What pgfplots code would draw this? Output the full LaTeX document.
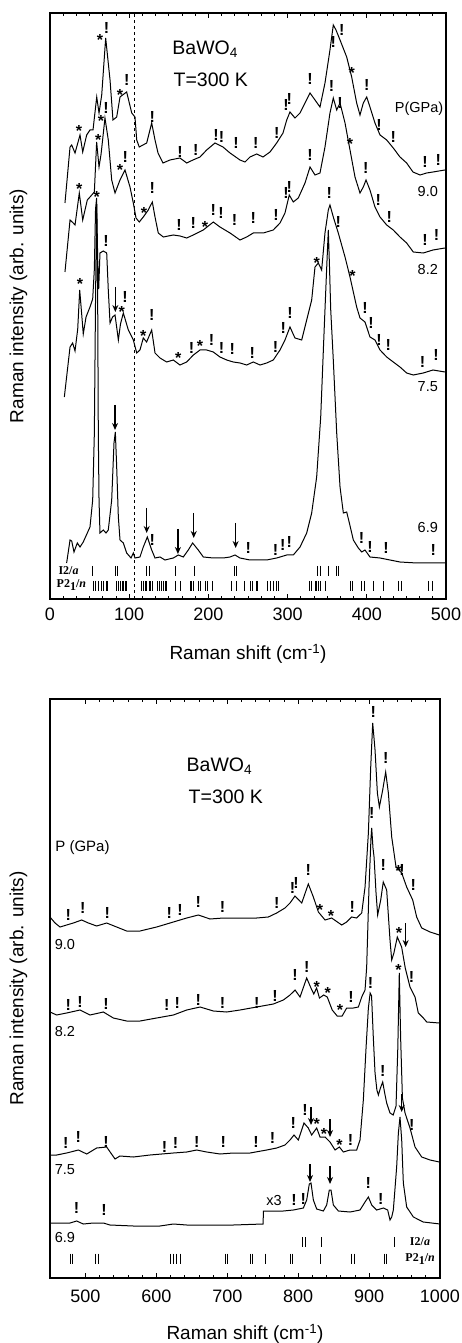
\documentclass[border=0pt]{standalone}
\usepackage{fontspec}
\setmainfont{Liberation Sans}
\newfontfamily\seriffont{Liberation Serif}
\usepackage{pgfplots}
\pgfplotsset{compat=1.18}
\usetikzlibrary{arrows.meta}

\tikzset{lab/.style={font=\fontsize{14.5}{16}\selectfont, inner sep=0pt},
  big/.style={font=\fontsize{19.5}{22}\selectfont, inner sep=0pt},
  phase/.style={inner sep=0pt, font=\seriffont\bfseries\fontsize{12}{12}\selectfont}}
\pgfplotsset{
  common/.style={
    scale only axis,
    axis line style={line width=1.2pt},
    tick align=inside,
    xtick pos=both,
    ytick=\empty,
    ymin=0,
    major tick length=5pt, minor tick length=3pt,
    every tick/.style={line width=0.8pt, black},
    ticklabel style={font=\fontsize{18}{20}\selectfont},
    /pgf/number format/assume math mode=true,
    /pgf/number format/1000 sep={},
    scaled x ticks=false,
    label style={font=\fontsize{19}{21}\selectfont},
  },
  spec/.style={black, line width=1pt, mark=none},
  bang/.style={draw=none, mark=none, forget plot, nodes near coords={!},
    every node near coord/.style={anchor=center, inner sep=0pt, black, font=\bfseries\fontsize{16}{16}\selectfont}},
  star/.style={draw=none, mark=none, forget plot, nodes near coords={*},
    every node near coord/.style={anchor=center, inner sep=0pt, black, yshift=-3pt, font=\bfseries\fontsize{16}{16}\selectfont}},
  rowmarks/.style={only marks, mark=|, mark size=5pt, black, mark options={line width=0.7pt}},
  arr/.style={black, line width=1.4pt, -{Stealth[length=7pt,width=6pt]}},
}

\begin{document}
\begin{tikzpicture}
\useasboundingbox (-50pt,-744pt) rectangle (412pt,599pt);

% ================= TOP PANEL =================
\begin{axis}[common,
  width=396pt, height=586pt,
  xmin=0, xmax=500, ymax=586,
  xtick={0,100,...,500}, minor x tick num=5,
  xticklabel style={yshift=-5.5pt},
  xlabel={Raman shift (cm\textsuperscript{-1})},
  ylabel={Raman intensity (arb. units)},
  xlabel style={at={(axis description cs:0.5,-0.094)}, anchor=center},
  ylabel style={at={(axis description cs:-0.0795,0.5)}, anchor=center},
]
\addplot[black, dashed, line width=0.8pt] coordinates {(106.5,0) (106.5,586)};

% 9.0 GPa
\addplot[spec] coordinates {
(18.9,396)(25.3,452)(27.4,454)(31.6,446)(37.9,464)(41.3,447)(46.3,464)(50.5,469)(54.3,469)
(59.0,502)(61.9,486)(65.3,504)(70.3,561)(75.8,519)(79.5,479)(84.2,482)(88.4,502)(96.8,507)
(103.2,486)(107.3,482)(109.5,459)(112.7,452)(122.1,456)(128.4,476)(132.6,459)(136.4,446)
(142.7,436)(151.5,439)(164.1,441)(172.6,436)(180.5,439)(189.4,442)(197.8,449)(208.3,456)
(218.4,452)(227.3,446)(239.9,439)(246.2,437)(252.5,442)(261.0,445)(268.9,442)(277.8,447)
(286.2,456)(294.2,466)(298.9,479)(303.0,487)(309.3,481)(315.7,486)(322.0,496)(328.3,506)
(334.6,499)(340.9,492)(347.2,516)(353.5,549)(357.7,574)(361.1,569)(366.2,559)(374.6,542)
(380.9,522)(387.2,496)(391.4,484)(395.6,496)(399.9,502)(404.0,492)(410.3,476)(416.7,464)
(425.1,459)(433.4,451)(441.9,442)(450.3,436)(458.3,427)(467.2,424)(475.6,426)(483.6,427)(498.7,429)};

% 8.2 GPa
\addplot[spec] coordinates {
(18.9,327)(25.3,379)(29.4,376)(31.6,374)(37.0,406)(41.3,379)(47.1,399)(50.5,402)(56.0,407)
(58.9,457)(61.9,432)(64.5,445)(69.4,481)(73.6,459)(77.9,419)(82.1,406)(85.0,412)(88.4,419)
(94.7,429)(101.0,412)(105.2,396)(108.6,381)(112.7,377)(117.8,382)(124.1,389)(129.2,397)
(132.6,382)(136.7,366)(143.1,362)(155.7,364)(164.1,363)(172.6,361)(180.9,364)(193.6,369)
(206.2,377)(214.6,372)(227.3,366)(239.9,359)(248.3,362)(256.7,366)(269.3,366)(281.9,369)
(290.4,376)(296.7,386)(302.1,404)(307.2,397)(313.5,401)(322.0,416)(328.3,432)(334.6,424)
(340.9,426)(347.2,452)(353.5,486)(357.7,501)(362.0,489)(366.2,496)(372.5,476)(378.8,449)
(385.1,422)(391.4,406)(395.6,412)(399.0,419)(404.0,409)(410.3,392)(416.7,382)(425.1,374)
(433.4,369)(441.9,362)(450.3,356)(458.7,347)(471.3,346)(483.6,349)(498.7,351)};

% 7.5 GPa
\addplot[spec] coordinates {
(18.1,202)(25.3,252)(28.6,256)(31.6,248)(35.0,270)(37.5,309)(40.0,285)(42.0,265)(45.5,282)
(50.5,292)(53.9,300)(56.0,330)(57.5,390)(58.9,401)(60.2,340)(61.5,310)(63.1,346)(67.3,348)
(71.6,346)(73.6,309)(75.8,276)(79.0,282)(82.1,284)(84.5,270)(86.3,259)(89.0,275)(92.6,286)
(98.9,269)(105.2,259)(109.5,246)(113.6,249)(117.8,261)(122.0,257)(128.4,269)(132.6,246)
(138.9,241)(147.3,237)(155.7,239)(164.1,234)(172.6,237)(181.0,244)(189.4,249)(197.8,249)
(206.2,247)(214.6,242)(223.1,239)(231.4,237)(239.9,236)(248.3,234)(256.7,237)(265.2,234)
(273.6,236)(281.9,239)(290.4,249)(296.7,259)(303.0,272)(309.3,261)(317.8,259)(324.1,279)
(330.4,299)(334.6,332)(338.8,336)(343.0,329)(347.2,366)(351.4,389)(353.5,394)(357.7,382)
(364.0,366)(372.5,342)(378.8,322)(387.2,292)(391.4,281)(397.7,277)(404.0,262)(410.3,259)
(416.7,249)(425.1,242)(433.4,237)(441.9,232)(450.3,226)(458.7,224)(471.3,226)(483.6,229)(498.7,227)};

% 6.9 GPa
\addplot[spec] coordinates {
(21.0,36)(25.3,59)(27.4,58)(30.3,47)(34.5,56)(37.9,52)(42.0,57)(47.1,66)(50.5,72)(53.9,99)
(56.0,166)(57.5,300)(58.9,395)(60.2,300)(61.0,166)(61.9,99)(63.1,66)(67.3,69)(70.7,66)
(73.6,69)(77.9,99)(80.8,156)(82.5,167)(84.2,132)(86.3,82)(88.4,59)(92.6,56)(96.8,46)
(102.3,41)(105.2,46)(107.3,41)(113.6,42)(117.8,52)(122.9,62)(128.4,49)(132.6,41)(138.9,42)
(145.2,39)(155.7,41)(162.0,44)(168.3,42)(174.6,49)(180.1,56)(187.2,49)(193.6,42)(206.2,41)
(218.8,41)(227.3,42)(233.6,44)(239.9,41)(252.5,39)(273.6,39)(286.2,41)(298.9,44)(307.2,44)
(315.7,52)(324.1,66)(330.4,86)(336.7,122)(341.8,182)(346.0,266)(349.3,330)(351.4,369)
(353.0,330)(354.4,290)(357.7,239)(362.0,166)(366.2,112)(370.4,86)(374.6,87)(378.0,76)
(383.0,59)(389.3,51)(393.6,47)(397.7,49)(404.0,42)(416.7,41)(429.3,39)(441.9,37)(463.0,36)
(484.0,36)(498.7,36)};

% phase tick rows
\addplot[rowmarks] coordinates {
(53.9,28)(82.1,28)(85,28)(122,28)(125,28)(158.7,28)(181.8,28)(232.7,28)(235.6,28)
(338,28)(341.8,28)(351.4,28)(361.1,28)(364,28)};
\addplot[rowmarks] coordinates {
(54.7,13)(56.8,13)(61.0,13)(64.4,13)(67.3,13)(70.7,13)(72.8,13)
(84.2,13)(86.3,13)(89.2,13)(90.9,13)(92.6,13)(94.7,13)(96.8,13)
(115.7,13)(117.8,13)(119.9,13)(122.1,13)(125.0,13)(127.1,13)(129.6,13)
(135.5,13)(138.0,13)(141.0,13)(143.1,13)(145.2,13)(147.3,13)
(158.7,13)(164.1,13)(176.8,13)(178.9,13)(181.0,13)(187.3,13)(189.4,13)(195.7,13)(198.6,13)(205.0,13)
(228.5,13)(234.9,13)(245.4,13)(253.4,13)(255.5,13)(260.1,13)(262.2,13)
(274.8,13)(277.8,13)(282.0,13)(285.4,13)(288.3,13)
(327.4,13)(329.5,13)(334.6,13)(336.7,13)(338.8,13)(340.9,13)(347.2,13)
(378.8,13)(381.7,13)(393.5,13)(396.5,13)(408.3,13)(420.9,13)(439.8,13)(444.0,13)(477.7,13)(482.7,13)};

\addplot[bang] coordinates {
(71.5,571)(96.8,519)(129.2,482)(164.1,447)(184.0,449)(209.6,464)(216.7,462)(234.8,456)
(259.7,456)(286.2,466)(298.0,494)(302.1,500)(328.3,520)(357.7,557)(368.3,569)(399.9,514)
(415.4,474)(433.4,462)(473.5,437)(490.3,439)
(70.7,491)(95.1,442)(129.2,411)(162.9,374)(181.0,376)(206.2,389)(216.0,386)(233.0,379)
(256.7,381)(285.3,384)(298.0,406)(302.1,412)(328.3,444)(355.5,513)(366.2,496)(398.6,431)
(414.5,399)(428.4,382)(473.5,359)(488.2,364)
(70.7,358)(94.7,302)(128.4,284)(178.8,251)(204.1,259)(216.7,251)(230.2,250)(255.4,246)
(284.9,252)(294.6,271)(303.0,286)(352.6,406)(364.0,377)(397.7,291)(405.3,276)(415.4,259)
(427.2,254)(470.5,237)(487.4,244)
(129.2,59)(250.4,51)(284.9,49)(293.8,54)(302.1,57)(393.5,61)(404.0,52)(424.2,51)(484.0,49)};
\addplot[star] coordinates {
(63.1,562)(36.6,471)(88.4,507)(380.9,529)
(37.0,413)(61.0,462)(64.4,481)(88.4,432)(118.7,389)(195.7,375)(378.8,458)
(37.9,318)(58.9,405)(90.5,290)(117.8,266)(162.0,244)(189.4,256)(336.7,339)(382.0,326)};
\addplot[arr, quiver={u=0, v=-25}] coordinates {
(82.5,312)(82.1,194)(122.1,91)(161.5,70)(181.5,86)(234.4,76)};

\node[big] at (axis cs:196,550) {BaWO\textsubscript{4}};
\node[big] at (axis cs:203,519) {T=300 K};
\node[lab] at (axis cs:466,490) {P(GPa)};
\node[lab] at (axis cs:477,407) {9.0};
\node[lab] at (axis cs:477,329) {8.2};
\node[lab] at (axis cs:477,212) {7.5};
\node[lab] at (axis cs:477,71) {6.9};
\node[phase] at (axis cs:23.4,28) {I2/\textit{a}};
\node[phase] at (axis cs:27,14) {P2\raisebox{-0.4ex}{1}/\textit{n}};
\end{axis}

% ================= BOTTOM PANEL =================
\begin{axis}[common,
  at={(0pt,-100pt)}, anchor=north west,
  width=390pt, height=579pt,
  xmin=450, xmax=1000, ymax=579,
  xtick={500,600,...,1000}, minor x tick num=4,
  xticklabel style={yshift=-8.5pt},
  xlabel={Raman shift (cm\textsuperscript{-1})},
  ylabel={Raman intensity (arb. units)},
  xlabel style={at={(axis description cs:0.5,-0.097)}, anchor=center},
  ylabel style={at={(axis description cs:-0.081,0.5)}, anchor=center},
]
\addplot[spec] coordinates {
(450,361)(457.1,355)(464.1,351)(473.5,353)(482.9,355)(494.7,358)(504.1,355)(515.8,352)
(529.9,355)(544.0,351)(558.1,347)(577.0,347)(600.4,351)(624.0,356)(642.8,360)(659.2,363)
(675.7,359)(694.5,360)(718.0,360)(741.5,360)(757.9,361)(769.7,365)(781.4,370)(788.5,375)
(795.5,382)(805.0,375)(814.3,394)(821.4,381)(828.5,366)(837.9,358)(847.2,360)(861.4,353)
(868.4,356)(875.4,361)(882.5,360)(889.6,365)(894.3,391)(899.0,445)(902.3,511)(905.1,555)
(908.4,528)(911.7,485)(914.5,471)(919.2,488)(923.4,506)(927.2,485)(931.9,441)(938.0,411)
(946.0,405)(953.0,391)(961.5,378)(967.1,361)(974.2,350)(986.0,346)(999.1,343)};

\addplot[spec] coordinates {
(450,266)(459.4,263)(473.5,265)(492.3,268)(506.4,263)(525.3,266)(539.3,260)(558.1,257)
(577.0,257)(600.4,260)(624.0,263)(642.8,268)(661.6,271)(680.4,267)(699.2,266)(718.0,268)
(741.5,271)(765.0,274)(779.1,278)(788.5,283)(795.6,288)(802.6,281)(812.0,300)(818.0,290)
(822.0,284)(826.0,290)(830.0,280)(836.0,283)(841.0,281)(848.0,268)(855.0,262)(862.0,262)
(868.4,270)(877.8,270)(884.9,271)(889.6,281)(894.3,288)(896.6,311)(899.9,391)(902.7,440)
(903.7,450)(905.5,430)(907.0,421)(909.8,385)(912.1,363)(916.4,378)(920.0,396)(924.8,388)
(929.5,338)(931.9,318)(935.0,325)(939.8,341)(945.9,331)(951.0,310)(957.7,291)(964.8,281)
(969.4,265)(976.5,260)(981.3,256)(999.1,255)};

\addplot[spec] coordinates {
(450,123)(459.4,123)(473.5,125)(490.0,128)(501.8,124)(515.8,130)(529.9,131)(541.7,119)
(548.7,122)(567.5,121)(591.0,123)(624.0,125)(642.8,126)(656.9,128)(671.0,126)(689.8,124)
(708.6,125)(732.1,125)(755.6,128)(769.7,130)(781.4,133)(788.5,138)(794.1,143)(800.2,138)
(808.2,155)(814.3,150)(819.0,143)(826.1,150)(830.8,141)(837.9,141)(844.9,136)(852.0,128)
(858.1,131)(863.7,126)(873.1,128)(882.5,128)(887.2,138)(891.9,178)(895.7,230)(899.0,270)
(901.5,285)(903.5,282)(906.0,240)(908.4,205)(911.0,188)(913.1,183)(916.0,190)(919.2,196)
(922.0,185)(924.8,175)(929.5,165)(934.0,163)(938.0,172)(940.5,230)(942.6,305)(944.5,240)
(947.0,180)(950.7,165)(957.7,150)(964.8,131)(974.2,121)(986.0,118)(999.1,116)};

\addplot[spec] coordinates {
(450,55)(464.1,55)(478.2,55)(487.6,57)(497.0,54)(511.1,55)(525.3,55)(534.6,53)(567.5,52)
(605.1,52)(624.0,54)(642.8,53)(680.4,53)(708.6,53)(750.5,54)(751.0,67)(779.1,67)(793.2,68)
(807.3,70)(812.0,78)(815.7,94)(818.1,95)(821.4,78)(826.1,69)(835.5,67)(840.2,73)(843.9,88)
(846.3,88)(849.6,73)(856.7,67)(873.1,66)(887.2,68)(894.3,76)(899.0,81)(903.7,73)(910.7,68)
(920.2,70)(926.2,68)(929.5,58)(931.9,61)(934.2,68)(938.9,111)(941.3,145)(943.6,161)
(946.0,138)(948.3,95)(953.0,71)(962.5,61)(976.5,56)(1000,54)};

\addplot[rowmarks] coordinates {(806.4,36)(810.1,36)(832.2,36)(935.6,36)};
\addplot[rowmarks] coordinates {
(478.7,19.5)(482.0,19.5)(514.4,19.5)(518.2,19.5)(620.2,19.5)(624.0,19.5)(627.7,19.5)(633.4,19.5)
(696.8,19.5)(700.1,19.5)(732.1,19.5)(735.4,19.5)(754.2,19.5)(788.5,19.5)(792.2,19.5)(830.8,19.5)
(874.5,19.5)(878.8,19.5)(921.5,19.5)(924.8,19.5)};

\addplot[bang] coordinates {
(475.9,363)(496.1,370)(530.9,365)(618.3,365)(633.4,368)(659.2,376)(693.5,371)(769.7,375)
(792.2,390)(797.0,395)(814.3,408)(876.4,371)(906.0,566)(923.4,520)(946.5,408)(962.4,393)
(475.9,273)(492.3,276)(529.0,274)(614.6,273)(629.6,275)(659.2,278)(693.5,275)(741.5,275)
(767.3,282)(795.6,303)(812.0,311)(874.5,281)(903.7,465)(920.0,413)(960.0,301)
(472.1,135)(490.0,141)(529.0,136)(611.7,131)(627.2,135)(656.9,136)(694.5,136)(740.5,136)
(764.0,140)(793.2,155)(809.6,168)(874.0,138)(902.0,295)(919.2,207)(960.1,153)
(487.6,70)(526.2,68)(794.1,78)(807.3,79)(899.0,95)(916.4,79)};
\addplot[star] coordinates {
(830.8,371)(846.3,365)(941.5,410)
(826.1,294)(841.6,288)(859.0,271)(942.2,348)
(826.1,157)(836.4,147)(858.1,136)(941.3,311)};
\addplot[arr, quiver={u=0, v=-18}] coordinates {
(816.7,114)(844.9,112)(946.0,184)(818.1,171)(844.9,159)};
\addplot[arr, quiver={u=0, v=-24}] coordinates {(951.6,355)};

\node[big] at (axis cs:689,512) {BaWO\textsubscript{4}};
\node[big] at (axis cs:698,481) {T=300 K};
\node[lab, font=\fontsize{15}{17}\selectfont] at (axis cs:495.8,430) {P (GPa)};
\node[lab] at (axis cs:471,333) {9.0};
\node[lab] at (axis cs:471,246) {8.2};
\node[lab] at (axis cs:471,108) {7.5};
\node[lab] at (axis cs:471,41) {6.9};
\node[lab] at (axis cs:766,77) {x3};
\node[phase] at (axis cs:971.8,36) {I2/\textit{a}};
\node[phase] at (axis cs:972,19) {P2\raisebox{-0.4ex}{1}/\textit{n}};
\end{axis}
\end{tikzpicture}
\end{document}
